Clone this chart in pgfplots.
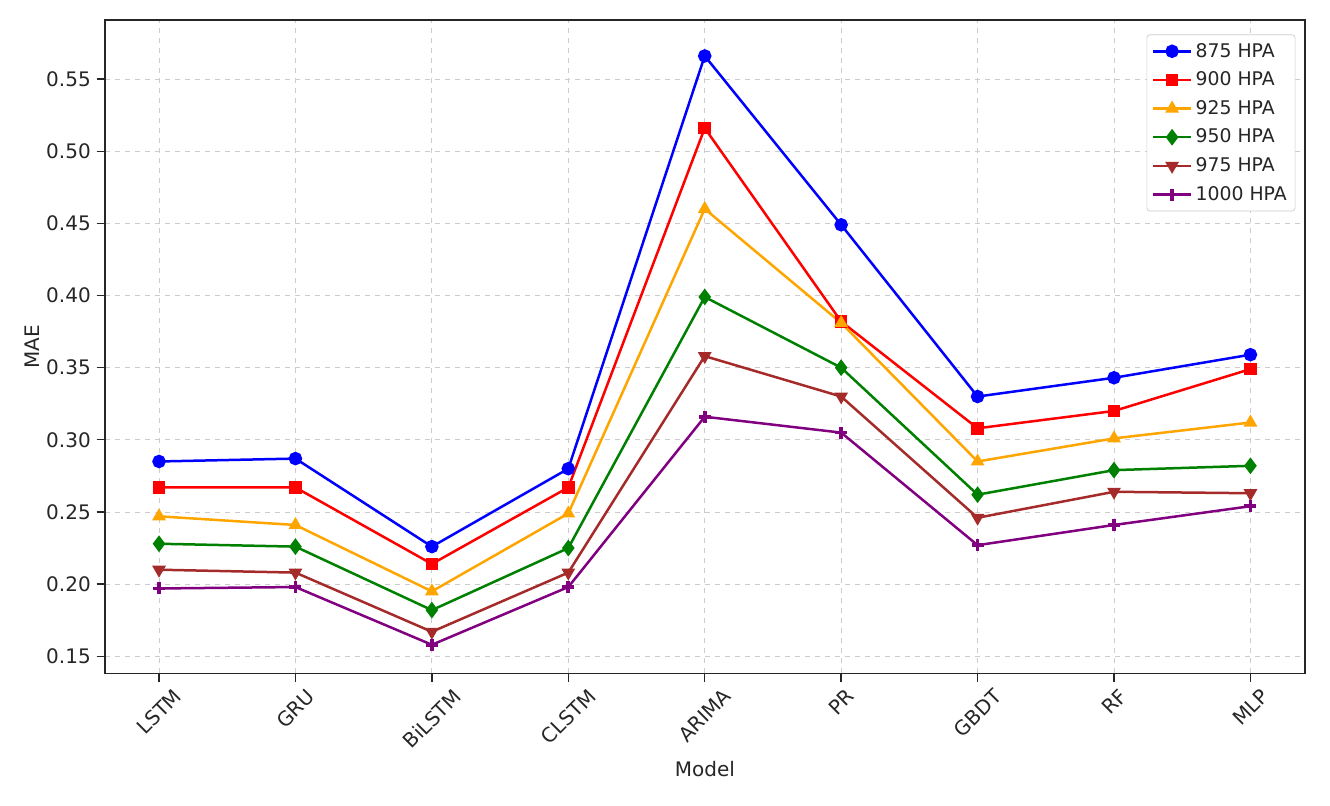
\documentclass[border=0pt]{standalone}
\usepackage{fontspec}
\setmainfont{DejaVu Sans}
\usepackage{pgfplots}
\pgfplotsset{compat=1.18}

\definecolor{cOrange}{RGB}{255,165,0}
\definecolor{cGreen}{RGB}{0,128,0}
\definecolor{cBrown}{RGB}{165,42,42}
\definecolor{cPurple}{RGB}{128,0,128}
\definecolor{txt}{RGB}{38,38,38}

\newcommand{\rl}[1]{\rotatebox{45}{#1}}

\begin{document}
\begin{tikzpicture}
\begin{axis}[
    width=720pt, height=392pt,
    scale only axis,
    xmin=-0.396, xmax=8.40,
    ymin=0.1382, ymax=0.5909,
    xtick={0,...,8},
    xticklabels={\rl{LSTM},\rl{GRU},\rl{BiLSTM},\rl{CLSTM},\rl{ARIMA},\rl{PR},\rl{GBDT},\rl{RF},\rl{MLP}},
    x tick label style={anchor=north, font=\large, text=txt},
    ytick={0.15,0.20,...,0.56},
    y tick label style={/pgf/number format/.cd, fixed, fixed zerofill, precision=2, /tikz/.cd, font=\large, text=txt},
    /pgf/number format/assume math mode=true,
    tick align=outside,
    tick pos=left,
    major tick length=5pt,
    tick style={txt, line width=0.8pt},
    axis line style={txt, line width=0.8pt},
    grid=major,
    grid style={dashed, gray!40, line width=0.5pt},
    xlabel={Model}, ylabel={MAE},
    label style={font=\large, text=txt},
    ylabel style={yshift=-3pt},
    legend style={font=\fontsize{11.3}{13}\selectfont, draw=gray!40, rounded corners=2pt, cells={anchor=west}, text=txt,
        at={(0.992,0.978)}, anchor=north east, row sep=3.3pt, inner sep=3pt},
    legend cell align=left,
    legend image code/.code={\draw[mark repeat=2,mark phase=2] plot coordinates {(0cm,0cm) (0.4cm,0cm) (0.8cm,0cm)};},
    every axis plot/.append style={line width=1.5pt, mark size=3.3pt},
]
\addplot[blue, mark=*] coordinates {(0,0.285) (1,0.287) (2,0.226) (3,0.280) (4,0.566) (5,0.449) (6,0.330) (7,0.343) (8,0.359)};
\addplot[red, mark=square*, mark size=3pt] coordinates {(0,0.267) (1,0.267) (2,0.214) (3,0.267) (4,0.516) (5,0.382) (6,0.308) (7,0.320) (8,0.349)};
\addplot[cOrange, mark=triangle*] coordinates {(0,0.247) (1,0.241) (2,0.195) (3,0.249) (4,0.460) (5,0.381) (6,0.285) (7,0.301) (8,0.312)};
\addplot[cGreen, mark=diamond*, mark size=3.8pt] coordinates {(0,0.228) (1,0.226) (2,0.182) (3,0.225) (4,0.399) (5,0.350) (6,0.262) (7,0.279) (8,0.282)};
\addplot[cBrown, mark=triangle*, mark options={rotate=180}] coordinates {(0,0.210) (1,0.208) (2,0.167) (3,0.208) (4,0.358) (5,0.330) (6,0.246) (7,0.264) (8,0.263)};
\addplot[cPurple, mark=+, mark size=3.6pt, mark options={line width=2.2pt}] coordinates {(0,0.197) (1,0.198) (2,0.158) (3,0.198) (4,0.316) (5,0.305) (6,0.227) (7,0.241) (8,0.254)};
\legend{875 HPA, 900 HPA, 925 HPA, 950 HPA, 975 HPA, 1000 HPA}
\end{axis}
\pgfresetboundingbox
\path ([shift={(-63pt,-79.2pt)}]current axis.south west) rectangle ([shift={(15pt,12pt)}]current axis.north east);
\end{tikzpicture}
\end{document}
